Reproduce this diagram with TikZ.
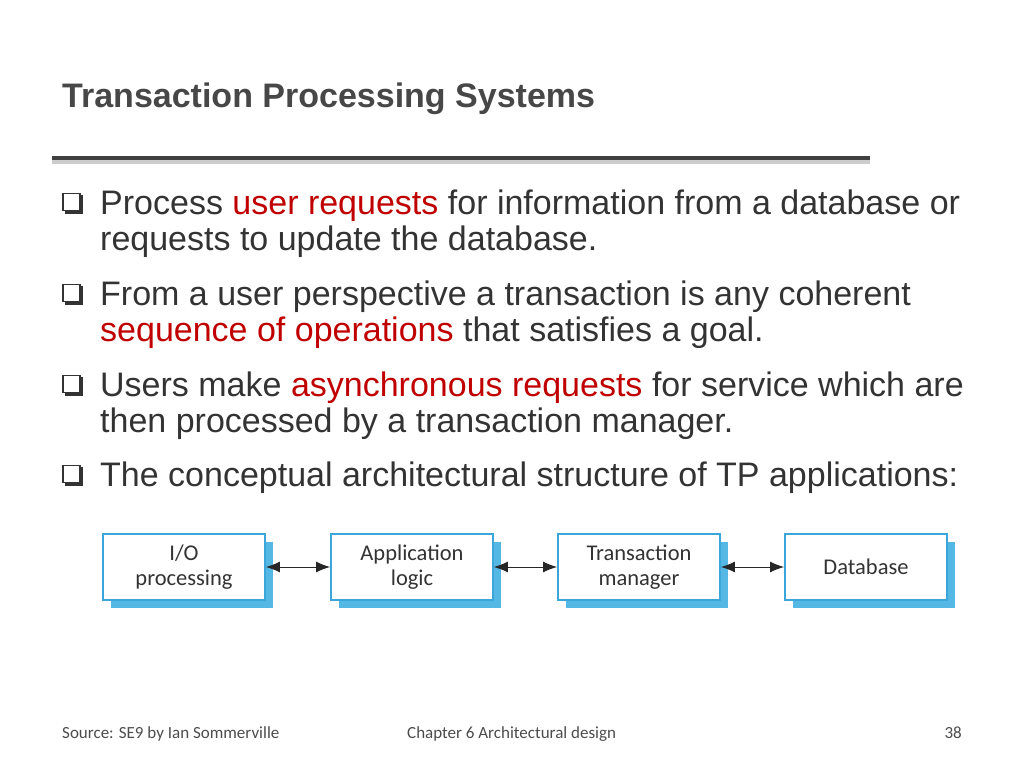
\documentclass[tikz,border=0pt]{standalone}
\usepackage{fontspec}
\setmainfont{Liberation Sans}
\newfontfamily\boxfont{Carlito}
\usetikzlibrary{arrows.meta}
\definecolor{txt}{HTML}{333333}
\definecolor{red1}{HTML}{C00000}
\definecolor{bblue}{HTML}{3AA6DA}
\definecolor{sblue}{HTML}{55B8E4}
\begin{document}
\begin{tikzpicture}[x=1pt,y=-1pt,
  body/.style={anchor=base west,inner sep=0,font=\fontsize{34}{37}\selectfont,text=txt},
  bul/.style={draw=txt,line width=1.5pt,minimum size=17pt,inner sep=0},
  comp/.style={draw=bblue,line width=1.8pt,fill=white,minimum width=162pt,minimum height=66pt,align=center,font=\boxfont\fontsize{22.5}{25}\selectfont,text=black!80},
  shad/.style={fill=sblue,minimum width=162pt,minimum height=66pt,inner sep=0},
  conn/.style={{Latex[length=14pt,width=11pt]}-{Latex[length=14pt,width=11pt]},line width=1pt,black!85}]
\useasboundingbox (0,0) rectangle (1024,768);
\node[anchor=base west,inner sep=0,font=\bfseries\fontsize{34}{38}\selectfont,text=black!72] (title) at (62,107) {Transaction Processing Systems};
\fill[black!20] (52,160) rectangle (870,164);
\draw[line width=4pt,black!75] (52,158) -- (870,158);
\foreach \y [count=\i] in {214,305,396,486}{
  \fill[txt] (65,\y-19) rectangle (83,\y);
  \node[bul,fill=white,anchor=south west] (b\i) at (62,\y-3) {};
}
\node[body] (l1) at (100,214) {Process \textcolor{red1}{user requests} for information from a database or};
\node[body] (l1b) at (100,250) {requests to update the database.};
\node[body] (l2) at (100,305) {From a user perspective a transaction is any coherent};
\node[body] (l2b) at (100,341) {\textcolor{red1}{sequence of operations} that satisfies a goal.};
\node[body] (l3) at (100,396) {Users make \textcolor{red1}{asynchronous requests} for service which are};
\node[body] (l3b) at (100,432) {then processed by a transaction manager.};
\node[body] (l4) at (100,486) {The conceptual architectural structure of TP applications:};
\foreach \x/\n/\t in {184/io/{I/O\\processing},412/app/{Application\\logic},639/tm/{Transaction\\manager},866/db/{Database}}{
  \node[shad] at (\x+8,575) {};
  \node[comp] (\n) at (\x,567) {\t};
}
\draw[conn] (io) -- (app);
\draw[conn] (app) -- (tm);
\draw[conn] (tm) -- (db);
\node[anchor=base west,inner sep=0,font=\boxfont\fontsize{17}{19}\selectfont,text=black!70] (src) at (62,738) {Source: SE9 by Ian Sommerville};
\node[anchor=base west,inner sep=0,font=\boxfont\fontsize{17}{19}\selectfont,text=black!70] (ch) at (407,738) {Chapter 6 Architectural design};
\node[anchor=base east,inner sep=0,font=\boxfont\fontsize{17}{19}\selectfont,text=black!70] (pg) at (962,738) {38};
\end{tikzpicture}
\end{document}
